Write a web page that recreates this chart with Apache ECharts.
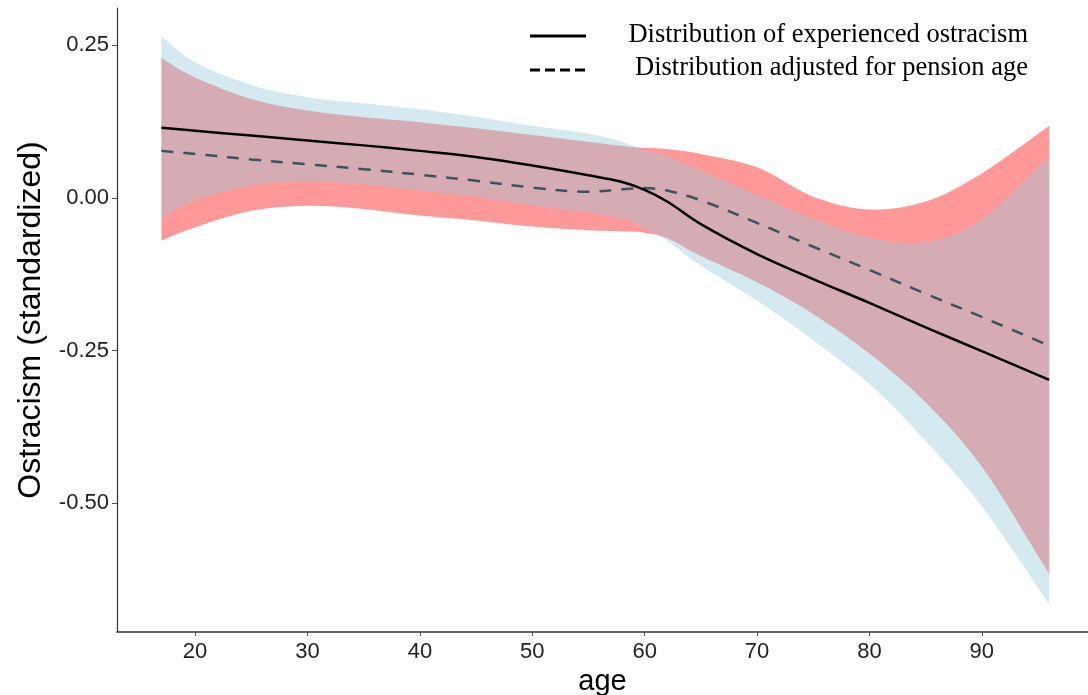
<!DOCTYPE html>
<html>
<head>
<meta charset="utf-8">
<script src="https://cdn.jsdelivr.net/npm/echarts@6/dist/echarts.min.js"></script>
<style>html,body{margin:0;padding:0;background:#fff;}#c{width:1088px;height:695px;}</style>
</head>
<body>
<div id="c"></div>
<script>
// ---- data ----
var ages     = [17, 20, 25, 30, 35, 40, 45, 50, 55, 58, 60, 62, 65, 70, 75, 80, 85, 90, 96];
var solid    = [0.115, 0.110, 0.102, 0.094, 0.086, 0.077, 0.067, 0.053, 0.037, 0.026, 0.013, -0.006, -0.043, -0.092, -0.133, -0.172, -0.212, -0.251, -0.298];
var dashed   = [0.077, 0.072, 0.063, 0.055, 0.047, 0.038, 0.028, 0.017, 0.010, 0.014, 0.016, 0.012, -0.004, -0.041, -0.080, -0.118, -0.157, -0.195, -0.242];
var blueLo   = [-0.033, -0.004, 0.020, 0.027, 0.022, 0.012, 0.002, -0.012, -0.024, -0.035, -0.050, -0.070, -0.111, -0.168, -0.233, -0.305, -0.398, -0.505, -0.665];
var blueHi   = [0.265, 0.222, 0.185, 0.165, 0.155, 0.145, 0.133, 0.118, 0.105, 0.092, 0.078, 0.068, 0.045, 0.005, -0.035, -0.065, -0.072, -0.035, 0.069];
var redLo    = [-0.070, -0.048, -0.021, -0.013, -0.018, -0.029, -0.037, -0.047, -0.053, -0.055, -0.057, -0.066, -0.095, -0.138, -0.190, -0.255, -0.335, -0.440, -0.616];
var redHi    = [0.229, 0.197, 0.162, 0.143, 0.132, 0.124, 0.114, 0.103, 0.092, 0.085, 0.082, 0.080, 0.072, 0.050, 0.002, -0.019, -0.006, 0.040, 0.118];
var xTicks   = [20, 30, 40, 50, 60, 70, 80, 90];
var yTicks   = [-0.50, -0.25, 0.00, 0.25];
var legendLabels = ['Distribution of experienced ostracism', 'Distribution adjusted for pension age'];

function pairs(xs, ys) { return xs.map(function (x, i) { return [x, ys[i]]; }); }

// Catmull-Rom spline through screen points -> path commands
function splineCmds(pts, first) {
  var d = (first ? 'M' : 'L') + pts[0][0] + ' ' + pts[0][1];
  for (var i = 0; i < pts.length - 1; i++) {
    var p0 = pts[i - 1] || pts[i], p1 = pts[i], p2 = pts[i + 1], p3 = pts[i + 2] || pts[i + 1];
    var c1x = p1[0] + (p2[0] - p0[0]) / 6, c1y = p1[1] + (p2[1] - p0[1]) / 6;
    var c2x = p2[0] - (p3[0] - p1[0]) / 6, c2y = p2[1] - (p3[1] - p1[1]) / 6;
    d += ' C' + c1x + ' ' + c1y + ' ' + c2x + ' ' + c2y + ' ' + p2[0] + ' ' + p2[1];
  }
  return d;
}
function bandSeries(lo, hi, color) {
  return {
    type: 'custom', silent: true, clip: true,
    data: ages.map(function (a, i) { return [a, lo[i], hi[i]]; }),
    encode: { x: 0, y: [1, 2] },
    renderItem: function (params, api) {
      if (params.dataIndex !== 0) return null;
      var up = ages.map(function (a, i) { return api.coord([a, hi[i]]); });
      var dn = ages.map(function (a, i) { return api.coord([a, lo[i]]); }).reverse();
      var d = splineCmds(up, true) + ' ' + splineCmds(dn, false) + ' Z';
      return { type: 'path', shape: { pathData: d }, style: { fill: color, stroke: null } };
    }
  };
}

var chart = echarts.init(document.getElementById('c'), null, { renderer: 'canvas' });
var axisColor = '#333';
var labelColor = '#222';
var sans = '"Liberation Sans", Arial, sans-serif';

var option = {
  animation: false,
  backgroundColor: '#fff',
  grid: { left: 117, right: 0, top: 8, bottom: 63, containLabel: false, outerBoundsMode: 'none' },
  xAxis: {
    type: 'value', min: 13.05, max: 99.45,
    name: 'age', nameLocation: 'middle', nameGap: 30,
    nameTextStyle: { fontFamily: sans, fontSize: 29, color: '#000' },
    axisLine: { show: true, onZero: false, lineStyle: { color: axisColor, width: 1.5 } },
    axisTick: { show: true, length: 4, lineStyle: { color: '#555' }, customValues: xTicks },
    axisLabel: { customValues: xTicks, fontFamily: sans, fontSize: 22, color: labelColor, margin: 9 },
    splitLine: { show: false }
  },
  yAxis: {
    type: 'value', min: -0.711, max: 0.311,
    name: 'Ostracism (standardized)', nameLocation: 'middle', nameGap: 70, nameRotate: 90,
    nameTextStyle: { fontFamily: sans, fontSize: 32, color: '#000' },
    axisLine: { show: true, onZero: false, lineStyle: { color: axisColor, width: 1.2 } },
    axisTick: { show: true, length: 5, lineStyle: { color: '#555' }, customValues: yTicks },
    axisLabel: { customValues: yTicks, fontFamily: sans, fontSize: 22, color: labelColor, margin: 8,
      formatter: function (v) { return v.toFixed(2); } },
    splitLine: { show: false }
  },
  series: [
    bandSeries(redLo, redHi, 'rgba(255,0,0,0.4)'),
    bandSeries(blueLo, blueHi, 'rgba(150,200,220,0.4)'),
    { type: 'line', name: legendLabels[1], data: pairs(ages, dashed), smooth: 0.35, symbol: 'none',
      lineStyle: { color: '#3e525c', width: 2.5, type: [12, 10] } },
    { type: 'line', name: legendLabels[0], data: pairs(ages, solid), smooth: 0.35, symbol: 'none',
      lineStyle: { color: '#000', width: 2.5 } }
  ],
  graphic: [
    { type: 'line', z: 100, shape: { x1: 530, y1: 36, x2: 586, y2: 36 }, style: { stroke: '#000', lineWidth: 3 } },
    { type: 'line', z: 100, shape: { x1: 530, y1: 70, x2: 586, y2: 70 }, style: { stroke: '#000', lineWidth: 3, lineDash: [10, 5] } },
    { type: 'text', z: 100, style: { x: 1028, y: 35, text: legendLabels[0], align: 'right', verticalAlign: 'middle',
      font: '26.5px "Liberation Serif", "Times New Roman", serif', fill: '#000' } },
    { type: 'text', z: 100, style: { x: 1028, y: 68, text: legendLabels[1], align: 'right', verticalAlign: 'middle',
      font: '26.5px "Liberation Serif", "Times New Roman", serif', fill: '#000' } }
  ]
};
chart.setOption(option);
</script>
</body>
</html>
